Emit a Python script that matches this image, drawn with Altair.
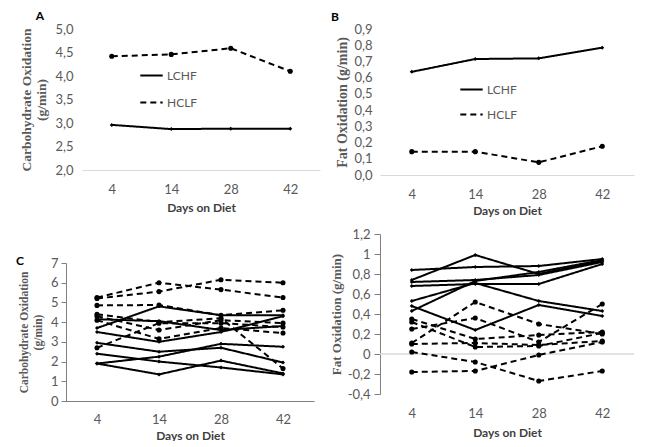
import altair as alt
import pandas as pd

days = ["4", "14", "28", "42"]
diets = ["LCHF", "HCLF"]

# Panel A: group mean carbohydrate oxidation (g/min)
cho_mean_lchf = [2.96, 2.87, 2.88, 2.88]
cho_mean_hclf = [4.42, 4.46, 4.59, 4.10]

# Panel B: group mean fat oxidation (g/min)
fat_mean_lchf = [0.636, 0.715, 0.719, 0.785]
fat_mean_hclf = [0.144, 0.144, 0.078, 0.177]

# Panel C: individual carbohydrate oxidation (g/min)
cho_ind_lchf = [
    [3.70, 4.80, 4.35, 4.35],
    [4.15, 4.05, 3.60, 3.80],
    [3.50, 3.00, 3.50, 4.30],
    [2.95, 2.50, 2.70, 1.95],
    [1.90, 2.25, 2.90, 2.75],
    [2.40, 2.00, 1.70, 1.35],
    [1.90, 1.35, 2.05, 1.40],
]
cho_ind_hclf = [
    [5.25, 6.00, 5.65, 5.25],
    [5.20, 5.55, 6.15, 6.00],
    [4.85, 4.87, 4.35, 4.60],
    [4.40, 4.00, 4.20, 1.65],
    [4.30, 3.60, 4.10, 3.95],
    [4.10, 3.15, 3.70, 3.45],
    [2.70, 3.95, 3.95, 3.75],
]

# Panel D: individual fat oxidation (g/min)
fat_ind_lchf = [
    [0.84, 0.87, 0.88, 0.95],
    [0.74, 0.99, 0.80, 0.93],
    [0.72, 0.74, 0.79, 0.92],
    [0.68, 0.70, 0.70, 0.90],
    [0.53, 0.71, 0.53, 0.43],
    [0.48, 0.24, 0.49, 0.38],
    [0.43, 0.73, 0.82, 0.94],
]
fat_ind_hclf = [
    [0.11, 0.52, 0.30, 0.20],
    [0.25, 0.36, 0.12, 0.50],
    [0.35, 0.15, 0.19, 0.22],
    [0.32, 0.07, 0.08, 0.21],
    [0.10, 0.11, 0.09, 0.13],
    [0.02, -0.08, -0.27, -0.17],
    [-0.18, -0.17, -0.01, 0.12],
]

zero_line = [0]


def mean_df(l, h):
    rows = []
    for diet, vals in (("LCHF", l), ("HCLF", h)):
        for d, v in zip(days, vals):
            rows.append({"day": d, "diet": diet, "subject": diet, "value": v})
    return pd.DataFrame(rows)


def ind_df(l, h):
    rows = []
    for diet, series in (("LCHF", l), ("HCLF", h)):
        for i, vals in enumerate(series):
            for d, v in zip(days, vals):
                rows.append({"day": d, "diet": diet, "subject": f"{diet}{i}", "value": v})
    return pd.DataFrame(rows)


LABEL_FONT = "Lato"
TITLE_FONT = "Liberation Serif"
GREY = "#595959"

dash_scale = alt.Scale(domain=diets, range=[[1, 0], [6, 4]])


def letter(txt, dx, dy):
    return alt.Chart(pd.DataFrame({"t": [txt]})).mark_text(
        font=LABEL_FONT, fontSize=12, fontWeight="bold", color="#000000"
    ).encode(text="t:N", x=alt.value(dx), y=alt.value(dy))


def panel(df, ydomain, ytitle, yaxis_kw, xaxis_kw, legend, w, h, title_size,
          zero=False, letter_layer=None, xrange=None):
    xscale = alt.Scale(domain=days) if xrange is None else alt.Scale(domain=days, range=xrange)
    x = alt.X("day:O", sort=days, scale=xscale,
              axis=alt.Axis(title="Days on Diet", labelFont=LABEL_FONT, labelFontSize=13,
                            labelColor=GREY, labelAngle=0, titleFont=LABEL_FONT,
                            titleFontSize=12, titleFontWeight="bold", titleColor="#404040",
                            **xaxis_kw))
    y = alt.Y("value:Q", scale=alt.Scale(domain=ydomain, nice=False, zero=False),
              axis=alt.Axis(title=ytitle, labelFont=LABEL_FONT, labelFontSize=13,
                            labelColor=GREY, grid=False, labelOverlap=False,
                            titleFont=TITLE_FONT, titleFontSize=title_size,
                            titleLimit=400, titleFontWeight="bold", titleColor=GREY,
                            **yaxis_kw))
    base = alt.Chart(df)
    lines = base.mark_line(color="black", strokeWidth=2).encode(
        x=x, y=y, detail="subject:N",
        strokeDash=alt.StrokeDash("diet:N", scale=dash_scale, legend=legend),
    )
    pts_l = base.transform_filter(alt.datum.diet == "LCHF").mark_point(
        filled=True, color="black", opacity=1, shape="diamond", size=16
    ).encode(x=x, y=y)
    pts_h = base.transform_filter(alt.datum.diet == "HCLF").mark_point(
        filled=True, color="black", opacity=1, shape="circle", size=26
    ).encode(x=x, y=y)
    layers = []
    if zero:
        layers.append(
            alt.Chart(pd.DataFrame({"value": zero_line}))
            .mark_rule(color="#d9d9d9", strokeWidth=1.5)
            .encode(y=y)
        )
    layers += [lines, pts_l, pts_h]
    if letter_layer is not None:
        layers.append(letter_layer)
    return alt.layer(*layers).properties(width=w, height=h)


def make_legend(lx, ly, rowpad, soff):
    return alt.Legend(title=None, orient="none", legendX=lx, legendY=ly,
                      symbolType="stroke", symbolSize=500, symbolStrokeWidth=2,
                      symbolStrokeColor="black", symbolOffset=soff,
                      labelFont=LABEL_FONT, labelFontSize=12,
                      labelColor=GREY, rowPadding=rowpad, labelOffset=3)


flat_x = dict(ticks=False, domainColor="#d9d9d9", domainWidth=1, labelPadding=13,
              titlePadding=5)
flat_y = dict(ticks=False, domain=False, labelPadding=9,
              labelExpr="replace(format(datum.value, '.1f'), '.', ',')")

chart_a = panel(
    mean_df(cho_mean_lchf, cho_mean_hclf), [2, 5],
    ["Carbohydrate Oxidation", "(g/min)"],
    dict(flat_y, values=[2, 2.5, 3, 3.5, 4, 4.5, 5], titlePadding=6, offset=-16),
    dict(flat_x, titlePadding=6), make_legend(56, 34, 8, 17), 254, 141, 13.5,
    letter_layer=letter("A", -26, -13), xrange=[16, 254],
)

chart_b = panel(
    mean_df(fat_mean_lchf, fat_mean_hclf), [0, 0.9],
    "Fat Oxidation (g/min)",
    dict(flat_y, values=[0, 0.1, 0.2, 0.3, 0.4, 0.5, 0.6, 0.7, 0.8, 0.9], titlePadding=4,
         labelPadding=8),
    dict(flat_x, titlePadding=4), make_legend(64, 48, 6, 15), 254, 146, 14,
    letter_layer=letter("B", -45, -12),
)

axis_y_c = dict(ticks=True, tickSize=5, tickColor="#7f7f7f", domain=True,
                domainColor="#7f7f7f", labelPadding=3, titlePadding=7,
                values=[0, 1, 2, 3, 4, 5, 6, 7])
axis_x_c = dict(ticks=False, domainColor="#7f7f7f", labelPadding=12, titlePadding=4)

chart_c = panel(
    ind_df(cho_ind_lchf, cho_ind_hclf), [0, 7],
    ["Carbohydrate Oxidation", "(g/min)"],
    axis_y_c, axis_x_c, None, 248, 138, 11.5,
    letter_layer=letter("C", -46, -2),
)

axis_y_d = dict(ticks=True, tickSize=6, tickColor="#7f7f7f", domain=True,
                domainColor="#7f7f7f", labelPadding=4, titleX=-37,
                values=[-0.4, -0.2, 0, 0.2, 0.4, 0.6, 0.8, 1.0, 1.2],
                labelExpr="replace('' + datum.value, '.', ',')")
axis_x_d = dict(ticks=False, domain=False, labelPadding=13, titlePadding=7)

chart_d = panel(
    ind_df(fat_ind_lchf, fat_ind_hclf), [-0.4, 1.2],
    "Fat Oxidation (g/min)",
    axis_y_d, axis_x_d, None, 254, 160, 13, zero=True,
)

ind = dict(x="independent", y="independent", strokeDash="independent")

col1 = alt.vconcat(chart_a, chart_c, spacing=42) \
    .resolve_scale(**ind).resolve_legend(strokeDash="independent")
col2 = alt.vconcat(chart_b, chart_d, spacing=12) \
    .resolve_scale(**ind).resolve_legend(strokeDash="independent")

chart = alt.hconcat(col1, col2, spacing=10).resolve_scale(**ind) \
    .resolve_legend(strokeDash="independent").properties(
        padding={"left": 8, "top": 2, "right": 5, "bottom": 0}
    ).configure_view(stroke=None)

chart.save("out.html", embed_options={"renderer": "svg", "actions": False})
